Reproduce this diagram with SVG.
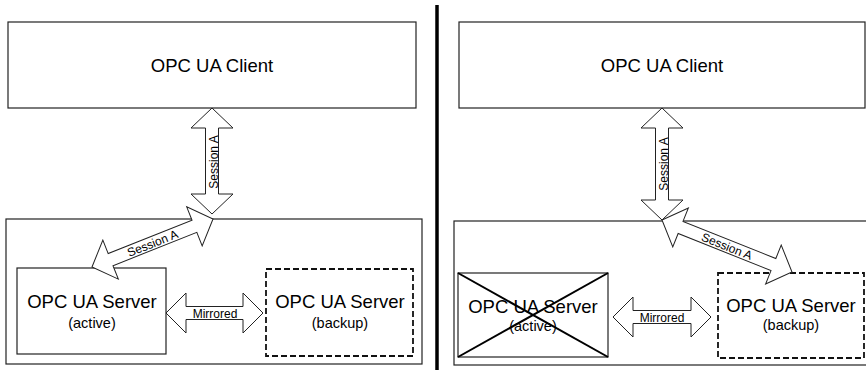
<svg xmlns="http://www.w3.org/2000/svg" width="866" height="376" viewBox="0 0 866 376">
<style>
.box{fill:#fff;stroke:#222;stroke-width:1.2}
.dash{fill:#fff;stroke:#111;stroke-width:1.8;stroke-dasharray:6 3}
.arr{fill:#fff;stroke:#222;stroke-width:1}
.t{font-family:"Liberation Sans",Arial,sans-serif;fill:#000;text-anchor:middle}
.big{font-size:18.5px}
.sm{font-size:14.5px}
.lab{font-size:12px}
.x{stroke:#000;stroke-width:2}
</style>
<rect width="866" height="376" fill="#fff"/>
<line x1="437" y1="5" x2="437" y2="370" stroke="#000" stroke-width="3.5"/>

<g id="left-container"><rect class="box" x="6" y="219" width="416" height="145"/></g>
<g id="right-container"><rect class="box" x="454" y="221" width="420" height="144"/></g>

<g id="left-client"><rect class="box" x="8" y="22" width="408" height="86"/><text class="t big" x="212" y="72">OPC UA Client</text></g>
<g id="left-active"><rect class="box" x="17" y="268" width="149" height="86"/><text class="t big" x="92" y="308">OPC UA Server</text><text class="t sm" x="92" y="328">(active)</text></g>
<g id="left-backup"><rect class="dash" x="266" y="269" width="147" height="87"/><text class="t big" x="340" y="308">OPC UA Server</text><text class="t sm" x="340" y="328">(backup)</text></g>

<g id="right-client"><rect class="box" x="459" y="22" width="406" height="86"/><text class="t big" x="662" y="72">OPC UA Client</text></g>
<g id="right-active"><rect class="box" x="458" y="273" width="150" height="84"/><text class="t big" x="533" y="313">OPC UA Server</text><text class="t sm" x="533" y="331">(active)</text><line class="x" x1="458" y1="273" x2="608" y2="357"/><line class="x" x1="458" y1="357" x2="608" y2="273"/></g>
<g id="right-backup"><rect class="dash" x="718" y="273" width="146" height="85"/><text class="t big" x="791" y="312">OPC UA Server</text><text class="t sm" x="791" y="330">(backup)</text></g>

<g id="connectors">
<g transform="translate(212,108) rotate(90)"><polygon class="arr" points="0,0 20,-21 20,-6.5 86,-6.5 86,-21 106,0 86,21 86,6.5 20,6.5 20,21"/></g>
<text class="t lab" transform="translate(218,162) rotate(-90)">Session A</text>
<g transform="translate(92,267) rotate(-21.64)"><polygon class="arr" points="0,0 20,-21 20,-6.5 110.2,-6.5 110.2,-21 130.2,0 110.2,21 110.2,6.5 20,6.5 20,21"/><text class="t lab" x="65" y="4.5">Session A</text></g>
<g transform="translate(166,313)"><polygon class="arr" points="0,0 20,-20 20,-6.5 77,-6.5 77,-20 97,0 77,20 77,6.5 20,6.5 20,20"/><text class="t lab" x="49" y="4.5">Mirrored</text></g>

<g transform="translate(662,108) rotate(90)"><polygon class="arr" points="0,0 20,-21 20,-6.5 92,-6.5 92,-21 112,0 92,21 92,6.5 20,6.5 20,21"/></g>
<text class="t lab" transform="translate(668,164) rotate(-90)">Session A</text>
<g transform="translate(662,220) rotate(21.8)"><polygon class="arr" points="0,0 20,-21 20,-6.5 120,-6.5 120,-21 140,0 120,21 120,6.5 20,6.5 20,21"/><text class="t lab" x="70" y="4.5">Session A</text></g>
<g transform="translate(613,317)"><polygon class="arr" points="0,0 20,-20 20,-6.5 78,-6.5 78,-20 98,0 78,20 78,6.5 20,6.5 20,20"/><text class="t lab" x="49" y="4.5">Mirrored</text></g>
</g>
</svg>
